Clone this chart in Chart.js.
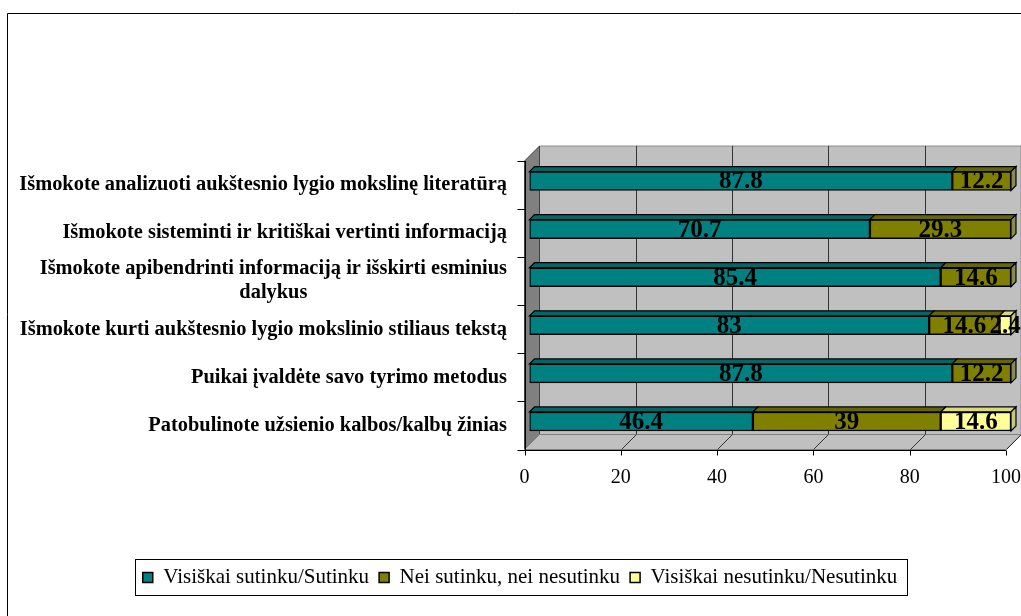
<!DOCTYPE html>
<html><head><meta charset="utf-8">
<script src="https://cdn.jsdelivr.net/npm/chart.js@4/dist/chart.umd.min.js"></script>
<style>html,body{margin:0;padding:0;background:#fff;}#wrap{width:1021px;height:616px;position:relative;}</style>
</head><body><div id="wrap"><canvas id="c"></canvas></div>
<script>
const categories = [
  'Išmokote analizuoti aukštesnio lygio mokslinę literatūrą',
  'Išmokote sisteminti ir kritiškai vertinti informaciją',
  ['Išmokote apibendrinti informaciją ir išskirti esminius', 'dalykus'],
  'Išmokote kurti aukštesnio lygio mokslinio stiliaus tekstą',
  'Puikai įvaldėte savo tyrimo metodus',
  'Patobulinote užsienio kalbos/kalbų žinias'
];
const seriesNames = ['Visiškai sutinku/Sutinku', 'Nei sutinku, nei nesutinku', 'Visiškai nesutinku/Nesutinku'];
const agree    = [87.8, 70.7, 85.4, 83, 87.8, 46.4];
const neutral  = [12.2, 29.3, 14.6, 14.6, 12.2, 39];
const disagree = [null, null, null, 2.4, null, 14.6];
const xTicks = [0, 20, 40, 60, 80, 100];

const frontColors = ['#008080', '#808000', '#FFFF99'];
const topColors   = ['#006666', '#666600', '#D9D982'];
const sideColors  = ['#005555', '#8a8a50', '#C8C87A'];

const SERIF = "'Liberation Serif', 'Times New Roman', serif";
Chart.defaults.font.family = SERIF;
Chart.defaults.color = '#000';

const FRONT = {dx: -5, dy: 4};
const BACK = {dx: 10, dy: -11};
const BAR_D = 5;

function poly(ctx, pts, fill, stroke, lw) {
  ctx.beginPath();
  ctx.moveTo(pts[0][0], pts[0][1]);
  for (let i = 1; i < pts.length; i++) ctx.lineTo(pts[i][0], pts[i][1]);
  ctx.closePath();
  if (fill) { ctx.fillStyle = fill; ctx.fill(); }
  if (stroke) { ctx.strokeStyle = stroke; ctx.lineWidth = lw || 1; ctx.stroke(); }
}
function line(ctx, x1, y1, x2, y2, color, lw) {
  ctx.beginPath(); ctx.moveTo(x1, y1); ctx.lineTo(x2, y2);
  ctx.strokeStyle = color; ctx.lineWidth = lw || 1; ctx.stroke();
}

const scene = {
  id: 'scene',
  beforeDraw(chart) {
    const ctx = chart.ctx, a = chart.chartArea, xs = chart.scales.x;
    ctx.save();
    ctx.fillStyle = '#fff'; ctx.fillRect(0, 0, chart.width, chart.height);
    ctx.beginPath(); ctx.moveTo(7.5, chart.height); ctx.lineTo(7.5, 13.5); ctx.lineTo(chart.width, 13.5);
    ctx.strokeStyle = '#000'; ctx.lineWidth = 1; ctx.stroke();

    const fl = xs.getPixelForValue(0) + FRONT.dx, fr = xs.getPixelForValue(100) + FRONT.dx;
    const ft = a.top + FRONT.dy, fb = a.bottom + FRONT.dy;
    const bl = xs.getPixelForValue(0) + BACK.dx, br = xs.getPixelForValue(100) + BACK.dx;
    const bt = a.top + BACK.dy, bb = a.bottom + BACK.dy;
    poly(ctx, [[bl, bt], [br, bt], [br, bb], [bl, bb]], '#C0C0C0', '#8c8c8c', 1);
    poly(ctx, [[fl, ft], [bl, bt], [bl, bb], [fl, fb]], '#808080', '#404040', 1);
    poly(ctx, [[fl, fb], [fr, fb], [br, bb], [bl, bb]], '#C0C0C0', '#808080', 1);
    xTicks.forEach(v => {
      if (v === 0) return;
      const bx = Math.round(xs.getPixelForValue(v) + BACK.dx) + 0.5;
      const fx = Math.round(xs.getPixelForValue(v) + FRONT.dx) + 0.5;
      line(ctx, bx, bt, bx, bb, '#333', 1);
      line(ctx, bx, bb, fx, fb, '#333', 1);
    });
    const flx = Math.round(fl) + 0.5, fby = Math.round(fb) + 0.5;
    line(ctx, flx, ft, flx, fby, '#000', 1);
    line(ctx, flx, fby, fr, fby, '#000', 1);
    xTicks.forEach(v => {
      const fx = Math.round(xs.getPixelForValue(v) + FRONT.dx) + 0.5;
      line(ctx, fx, fby, fx, fby + 5, '#000', 1);
    });
    const n = categories.length;
    for (let i = 0; i <= n; i++) {
      const y = Math.round(ft + i * (fb - ft) / n) + 0.5;
      line(ctx, flx - 8, y, flx, y, '#000', 1);
    }
    const ys = chart.scales.y;
    ctx.font = 'bold 20.4px ' + SERIF;
    ctx.fillStyle = '#000';
    ctx.textBaseline = 'middle';
    const rightX = 507;
    categories.forEach((c, i) => {
      const cy = ys.getPixelForValue(i) + FRONT.dy;
      if (Array.isArray(c)) {
        const w = Math.max(...c.map(s => ctx.measureText(s).width));
        ctx.textAlign = 'center';
        const lh = 24;
        c.forEach((s, k) => ctx.fillText(s, rightX - w / 2, cy + (k - (c.length - 1) / 2) * lh));
      } else {
        ctx.textAlign = 'right';
        ctx.fillText(c, rightX, cy);
      }
    });
    ctx.restore();
  },
  beforeDatasetsDraw(chart) {
    const ctx = chart.ctx;
    ctx.save();
    const dsets = chart.data.datasets;
    categories.forEach((c, i) => {
      let last = -1;
      dsets.forEach((ds, di) => { if (ds.data[i] != null) last = di; });
      dsets.forEach((ds, di) => {
        if (ds.data[i] == null) return;
        const el = chart.getDatasetMeta(di).data[i];
        const p = el.getProps(['x', 'y', 'base', 'height'], true);
        const x1 = Math.min(p.x, p.base), x2 = Math.max(p.x, p.base);
        const yt = p.y - p.height / 2, yb = p.y + p.height / 2;
        poly(ctx, [[x1, yt], [x2, yt], [x2 + BAR_D, yt - BAR_D], [x1 + BAR_D, yt - BAR_D]], topColors[di], '#000', 1.2);
        if (di === last) {
          poly(ctx, [[x2, yt], [x2 + BAR_D, yt - BAR_D], [x2 + BAR_D, yb - BAR_D], [x2, yb]], sideColors[di], '#000', 1.2);
        }
      });
    });
    ctx.restore();
  },
  afterDatasetsDraw(chart) {
    const ctx = chart.ctx;
    ctx.save();
    ctx.font = 'bold 25px ' + SERIF;
    ctx.fillStyle = '#000';
    ctx.textAlign = 'center';
    ctx.textBaseline = 'middle';
    chart.data.datasets.forEach((ds, di) => {
      chart.getDatasetMeta(di).data.forEach((el, i) => {
        const v = ds.data[i];
        if (v == null) return;
        const p = el.getProps(['x', 'y', 'base'], true);
        ctx.fillText(String(v), (p.x + p.base) / 2, p.y + 1);
      });
    });
    ctx.restore();
  },
  afterDraw(chart) {
    const lg = chart.legend;
    if (!lg || !lg.legendHitBoxes || !lg.legendHitBoxes.length) return;
    const hb = lg.legendHitBoxes;
    const left = Math.min(...hb.map(h => h.left)) - 8;
    const right = Math.max(...hb.map(h => h.left + h.width)) + 10;
    const ctx = chart.ctx;
    ctx.save();
    ctx.strokeStyle = '#000'; ctx.lineWidth = 1;
    ctx.strokeRect(Math.round(left) + 0.5, Math.round(lg.top) + 2.5, Math.round(right - left), 36);
    ctx.restore();
  }
};

new Chart(document.getElementById('c'), {
  type: 'bar',
  data: {
    labels: categories,
    datasets: [
      {label: seriesNames[0], data: agree, backgroundColor: frontColors[0]},
      {label: seriesNames[1], data: neutral, backgroundColor: frontColors[1]},
      {label: seriesNames[2], data: disagree, backgroundColor: frontColors[2]}
    ].map(d => Object.assign(d, {borderColor: '#000', borderWidth: 1.5, borderSkipped: false, barThickness: 19}))
  },
  options: {
    indexAxis: 'y',
    responsive: true,
    maintainAspectRatio: false,
    animation: false,
    devicePixelRatio: 1,
    layout: {autoPadding: false, padding: {left: 29, right: 10, top: 157, bottom: 18}},
    scales: {
      x: {
        stacked: true, min: 0, max: 100,
        grid: {display: false, drawTicks: false},
        border: {display: false},
        ticks: {stepSize: 20, labelOffset: -5, padding: 20, font: {size: 20}, color: '#000', maxRotation: 0},
        afterFit: s => { s.height = 111.5; s.paddingLeft = 0; s.paddingRight = 0; }
      },
      y: {
        stacked: true,
        grid: {display: false, drawTicks: false},
        border: {display: false},
        ticks: {display: false},
        afterFit: s => { s.width = 500.5; s.paddingTop = 0; s.paddingBottom = 0; }
      }
    },
    plugins: {
      legend: {
        position: 'bottom',
        labels: {boxWidth: 10, boxHeight: 10, padding: 10, font: {size: 21}, color: '#000'}
      },
      tooltip: {enabled: false}
    }
  },
  plugins: [scene]
});
</script>
</body></html>
